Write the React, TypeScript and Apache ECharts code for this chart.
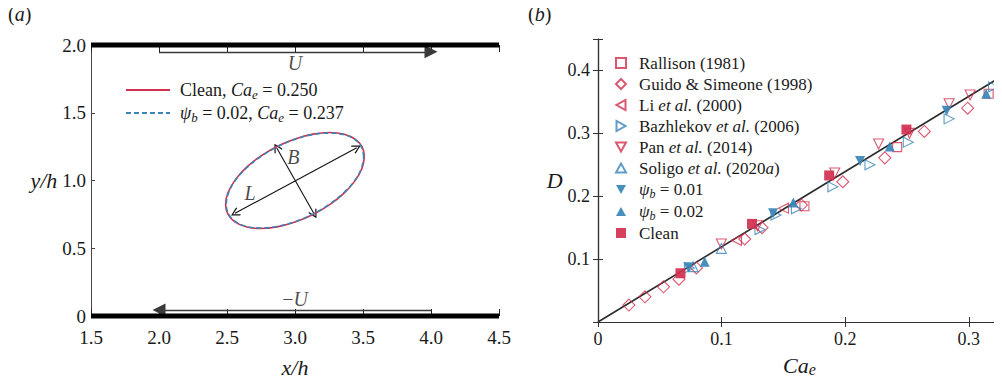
import React, { useEffect, useRef } from 'react';
import * as echarts from 'echarts';

const FONT = "'Liberation Serif', 'Times New Roman', serif";
const RED = '#d1304f';
const BLUE = '#3a85b6';
const INK = '#1a1a1a';

// ---------- Panel (a) data ----------
const xRangeA = [1.5, 4.5];
const yRangeA = [0, 2];
const wallTop = [[1.5, 2], [4.5, 2]];
const wallBottom = [[1.5, 0], [4.5, 0]];
const arrowTop = [[2.0, 1.95], [4.0, 1.95]];
const arrowBottom = [[4.0, 0.045], [2.0, 0.045]];
const arrowL = [[2.559, 0.758], [3.454, 1.242]];
const arrowB = [[2.865, 1.242], [3.142, 0.751]];
const annotations: [number, number, string][] = [
  [3.0, 1.87, '{i|U}'],
  [3.0, 0.125, '\u2212{i|U}'],
  [2.988, 1.17, '{i|B}'],
  [2.669, 0.906, '{i|L}'],
];
const cleanContour = [
  [3.510, 1.176], [3.493, 1.250], [3.442, 1.306], [3.361, 1.342], [3.255, 1.354], [3.132, 1.342],
  [3.000, 1.307], [2.868, 1.251], [2.745, 1.178], [2.639, 1.093], [2.558, 1.001], [2.507, 0.910],
  [2.490, 0.824], [2.507, 0.751], [2.558, 0.694], [2.639, 0.658], [2.745, 0.646], [2.868, 0.658],
  [3.000, 0.693], [3.132, 0.749], [3.255, 0.822], [3.361, 0.907], [3.442, 0.999], [3.493, 1.090],
  [3.510, 1.176],
];
const surfContour = [
  [3.505, 1.174], [3.488, 1.248], [3.438, 1.303], [3.357, 1.339], [3.252, 1.350], [3.131, 1.339],
  [3.000, 1.304], [2.869, 1.248], [2.748, 1.176], [2.643, 1.092], [2.562, 1.001], [2.512, 0.911],
  [2.495, 0.826], [2.512, 0.752], [2.562, 0.697], [2.643, 0.661], [2.748, 0.650], [2.869, 0.661],
  [3.000, 0.696], [3.131, 0.752], [3.252, 0.824], [3.357, 0.908], [3.438, 0.999], [3.488, 1.089],
  [3.505, 1.174],
];
const legendA = ['Clean, Ca_e = 0.250', '\u03c8_b = 0.02, Ca_e = 0.237'];

// ---------- Panel (b) data ----------
const xRangeB = [0, 0.326];
const yRangeB = [0, 0.45];
const fitLine = [[0, 0], [0.326, 0.39]];
const rallison = [[0.167, 0.184], [0.242, 0.278], [0.316, 0.363]];
const guido = [
  [0.025, 0.027], [0.038, 0.040], [0.053, 0.056], [0.0655, 0.068], [0.0796, 0.086], [0.1187, 0.132],
  [0.1327, 0.150], [0.1646, 0.186], [0.198, 0.223], [0.232, 0.261], [0.264, 0.303], [0.299, 0.340],
];
const li = [[0.150, 0.181], [0.112, 0.130]];
const bazhlekov = [
  [0.074, 0.086], [0.131, 0.147], [0.144, 0.170], [0.1605, 0.180], [0.190, 0.215],
  [0.220, 0.250], [0.251, 0.286], [0.284, 0.323], [0.320, 0.374],
];
const pan = [[0.0998, 0.124], [0.129, 0.153], [0.1915, 0.237], [0.227, 0.283], [0.252, 0.300], [0.284, 0.347], [0.301, 0.361]];
const soligo = [[0.077, 0.088], [0.0998, 0.117]];
const psi01 = [[0.073, 0.087], [0.1416, 0.173], [0.212, 0.256], [0.282, 0.336]];
const psi02 = [[0.0863, 0.096], [0.158, 0.190], [0.236, 0.279], [0.314, 0.363]];
const clean = [[0.0667, 0.0775], [0.1246, 0.156], [0.187, 0.233], [0.2495, 0.306]];
const namesB = [
  'Rallison (1981)', 'Guido & Simeone (1998)', 'Li et al. (2000)', 'Bazhlekov et al. (2006)',
  'Pan et al. (2014)', 'Soligo et al. (2020a)', '\u03c8_b = 0.01', '\u03c8_b = 0.02', 'Clean',
];

const richStyles = (size: number, lh: number) => ({
  i: { fontStyle: 'italic', fontFamily: FONT, fontSize: size, lineHeight: lh, color: INK },
  s: { fontStyle: 'italic', fontFamily: FONT, fontSize: Math.round(size * 0.72), lineHeight: lh - 9, padding: [9, 0, 0, 0], color: INK },
});

const fmtRich = (name: string) =>
  name
    .replace(/\u03c8_b/g, '{i|\u03c8}{s|b}')
    .replace(/Ca_e/g, '{i|Ca}{s|e}')
    .replace(/et al\./g, '{i|et al.}')
    .replace(/2020a/g, '2020{i|a}');

const chevron = 'path://M5,0 L10,9 L9,10 L5,2.6 L1,10 L0,9 Z';
const triUp = 'path://M5,0 L10,9 L0,9 Z';
const triDown = 'path://M0,0 L10,0 L5,9 Z';
const triLeft = 'path://M9,0 L9,10 L0,5 Z';
const triRight = 'path://M0,0 L0,10 L9,5 Z';

export default function App() {
  const ref = useRef<HTMLDivElement>(null);
  useEffect(() => {
    if (!ref.current) return;
    const chart = echarts.init(ref.current, undefined, { renderer: 'svg' });

    const openMarker = (name: string, data: number[][], symbol: string, rotate: number, color: string, size: number) => ({
      type: 'scatter', name, xAxisIndex: 2, yAxisIndex: 1, data, symbol, symbolRotate: rotate, symbolSize: size,
      itemStyle: { color: 'rgba(255,255,255,0)', borderColor: color, borderWidth: 1.1 }, z: 5,
    });
    const filledMarker = (name: string, data: number[][], symbol: string, rotate: number, color: string, size: number) => ({
      type: 'scatter', name, xAxisIndex: 2, yAxisIndex: 1, data, symbol, symbolRotate: rotate, symbolSize: size,
      itemStyle: { color, opacity: 0.92 }, z: 6,
    });

    const tickLabel = { fontFamily: FONT, fontSize: 19, color: INK };
    const legendIcons = ['rect', 'diamond', triLeft, triRight, triDown, triUp, triDown, triUp, 'rect'];

    const option: any = {
      animation: false,
      textStyle: { fontFamily: FONT },
      grid: [
        { left: 91, top: 45, width: 408, height: 271 },
        { left: 598, top: 39, width: 403, height: 283 },
      ],
      xAxis: [
        {
          gridIndex: 0, type: 'value', min: xRangeA[0], max: xRangeA[1], interval: 0.5,
          axisLine: { show: false }, splitLine: { show: false },
          axisTick: { show: true, inside: true, length: 7, lineStyle: { color: '#222', width: 1 } },
          axisLabel: { ...tickLabel, margin: 12, formatter: (v: number) => v.toFixed(1) },
          name: 'x/h', nameLocation: 'middle', nameGap: 40,
          nameTextStyle: { fontFamily: FONT, fontSize: 22, fontStyle: 'italic', color: INK },
        },
        {
          gridIndex: 0, type: 'value', position: 'top', min: xRangeA[0], max: xRangeA[1], interval: 0.5,
          axisLine: { show: false }, splitLine: { show: false }, axisLabel: { show: false },
          axisTick: { show: true, inside: true, length: 7, lineStyle: { color: '#222', width: 1 } },
        },
        {
          gridIndex: 1, type: 'value', min: xRangeB[0], max: xRangeB[1], interval: 0.1,
          axisLine: { show: true, lineStyle: { color: '#333', width: 1.2 } }, splitLine: { show: false },
          axisTick: { show: true, inside: true, length: 5, lineStyle: { color: '#333' } },
          axisLabel: { ...tickLabel, fontSize: 18, margin: 8, showMaxLabel: false, formatter: (v: number) => (v === 0 ? '0' : Math.abs(v * 10 - Math.round(v * 10)) < 1e-6 ? v.toFixed(1) : '') },
          name: '{i|Ca}{s|e}', nameLocation: 'middle', nameGap: 27,
          nameTextStyle: { fontFamily: FONT, fontSize: 22, color: INK, rich: richStyles(22, 30) },
        },
        {
          gridIndex: 1, type: 'value', position: 'top', min: xRangeB[0], max: xRangeB[1], interval: 0.1,
          axisLine: { show: true, lineStyle: { color: '#333', width: 1.2 } }, splitLine: { show: false },
          axisTick: { show: true, inside: true, length: 5, lineStyle: { color: '#333' } }, axisLabel: { show: false },
        },
      ],
      yAxis: [
        {
          gridIndex: 0, type: 'value', min: yRangeA[0], max: yRangeA[1], interval: 0.5,
          axisLine: { show: true, lineStyle: { color: '#444', width: 1 } }, splitLine: { show: false },
          axisTick: { show: true, inside: true, length: 4, lineStyle: { color: '#444' } },
          axisLabel: { ...tickLabel, margin: 5, formatter: (v: number) => (v === 0 ? '0' : v.toFixed(1)) },
          name: 'y/h', nameLocation: 'middle', nameRotate: 0, nameGap: 29,
          nameTextStyle: { fontFamily: FONT, fontSize: 22, fontStyle: 'italic', color: INK },
        },
        {
          gridIndex: 1, type: 'value', min: yRangeB[0], max: yRangeB[1], interval: 0.1,
          axisLine: { show: true, lineStyle: { color: '#333', width: 1.2 } }, splitLine: { show: false },
          axisTick: { show: true, inside: true, length: 5, lineStyle: { color: '#333' } },
          axisLabel: { ...tickLabel, fontSize: 18, margin: 8, formatter: (v: number) => (v === 0 ? '' : Math.abs(v * 10 - Math.round(v * 10)) < 1e-6 ? v.toFixed(1) : '') },
          name: 'D', nameLocation: 'middle', nameRotate: 0, nameGap: 24,
          nameTextStyle: { fontFamily: FONT, fontSize: 22, fontStyle: 'italic', color: INK, padding: [30, 0, 0, 0] },
        },
        {
          gridIndex: 1, type: 'value', position: 'right', min: yRangeB[0], max: yRangeB[1], interval: 0.1,
          axisLine: { show: true, lineStyle: { color: '#333', width: 1.2 } }, splitLine: { show: false },
          axisTick: { show: true, inside: true, length: 5, lineStyle: { color: '#333' } }, axisLabel: { show: false },
        },
      ],
      legend: [
        {
          data: legendA, orient: 'vertical', left: 120, top: 74, itemWidth: 44, itemHeight: 14, itemGap: 1,
          selectedMode: false, formatter: fmtRich, itemStyle: { opacity: 0 },
          textStyle: { fontFamily: FONT, fontSize: 18, color: INK, lineHeight: 22, padding: [0, 0, 0, 5], rich: richStyles(18, 22) },
        },
        {
          data: namesB.map((n, k) => ({ name: n, icon: legendIcons[k] })),
          orient: 'vertical', left: 610, top: 48, itemWidth: 10, itemHeight: 10, itemGap: 1,
          selectedMode: false, formatter: fmtRich,
          textStyle: { fontFamily: FONT, fontSize: 17, color: INK, lineHeight: 20, padding: [0, 0, 0, 8], rich: richStyles(17, 20) },
        },
      ],
      graphic: [
        { type: 'text', left: 8, top: 4, style: { text: '({i|a})', fontFamily: FONT, fontSize: 20, fill: INK, rich: { i: { fontStyle: 'italic', fontFamily: FONT, fontSize: 20 } } } },
        { type: 'text', left: 528, top: 4, style: { text: '({i|b})', fontFamily: FONT, fontSize: 20, fill: INK, rich: { i: { fontStyle: 'italic', fontFamily: FONT, fontSize: 20 } } } },
      ],
      series: [
        { type: 'line', xAxisIndex: 0, yAxisIndex: 0, data: wallTop, symbol: 'none', clip: false, lineStyle: { color: '#000', width: 5 }, silent: true, z: 4 },
        { type: 'line', xAxisIndex: 0, yAxisIndex: 0, data: wallBottom, symbol: 'none', clip: false, lineStyle: { color: '#000', width: 5 }, silent: true, z: 4 },
        {
          type: 'line', name: legendA[0], xAxisIndex: 0, yAxisIndex: 0, data: cleanContour, symbol: 'none', smooth: 0.4,
          lineStyle: { color: RED, width: 1.6 }, itemStyle: { color: RED },
        },
        {
          type: 'line', name: legendA[1], xAxisIndex: 0, yAxisIndex: 0, data: surfContour, symbol: 'none', smooth: 0.4,
          lineStyle: { color: BLUE, width: 1.6, type: [5, 3] }, itemStyle: { color: BLUE },
        },
        {
          type: 'lines', coordinateSystem: 'cartesian2d', xAxisIndex: 0, yAxisIndex: 0,
          symbol: ['none', 'triangle'], symbolSize: [6, 13],
          lineStyle: { color: '#3a3a3a', width: 1.3, opacity: 1 },
          data: [{ coords: arrowTop }, { coords: arrowBottom }], z: 3,
        },
        {
          type: 'lines', coordinateSystem: 'cartesian2d', xAxisIndex: 0, yAxisIndex: 0,
          symbol: [chevron, chevron], symbolSize: [9, 9],
          lineStyle: { color: '#111', width: 1.1, opacity: 1 }, itemStyle: { color: '#111' },
          data: [{ coords: arrowL }, { coords: arrowB }], z: 3,
        },
        {
          type: 'scatter', xAxisIndex: 0, yAxisIndex: 0, symbolSize: 0, silent: true,
          data: annotations,
          label: {
            show: true, position: 'inside', formatter: (p: any) => p.data[2],
            fontFamily: FONT, fontSize: 20, color: INK,
            rich: { i: { fontStyle: 'italic', fontFamily: FONT, fontSize: 20, color: INK } },
          },
        },
        {
          type: 'line', xAxisIndex: 2, yAxisIndex: 1, data: fitLine, symbol: 'none', silent: true,
          lineStyle: { color: '#2b2b2b', width: 1.6 }, z: 2,
        },
        openMarker(namesB[0], rallison, 'rect', 0, RED, 9),
        openMarker(namesB[1], guido, 'diamond', 0, RED, 12),
        openMarker(namesB[2], li, 'triangle', 90, RED, 10),
        openMarker(namesB[3], bazhlekov, 'triangle', -90, BLUE, 10),
        openMarker(namesB[4], pan, 'triangle', 180, RED, 10),
        openMarker(namesB[5], soligo, 'triangle', 0, BLUE, 10),
        filledMarker(namesB[6], psi01, 'triangle', 180, BLUE, 10),
        filledMarker(namesB[7], psi02, 'triangle', 0, BLUE, 10),
        filledMarker(namesB[8], clean, 'rect', 0, RED, 10),
      ],
    };
    chart.setOption(option);
    return () => chart.dispose();
  }, []);
  return <div ref={ref} style={{ width: 1002, height: 385, margin: -8 }} />;
}
